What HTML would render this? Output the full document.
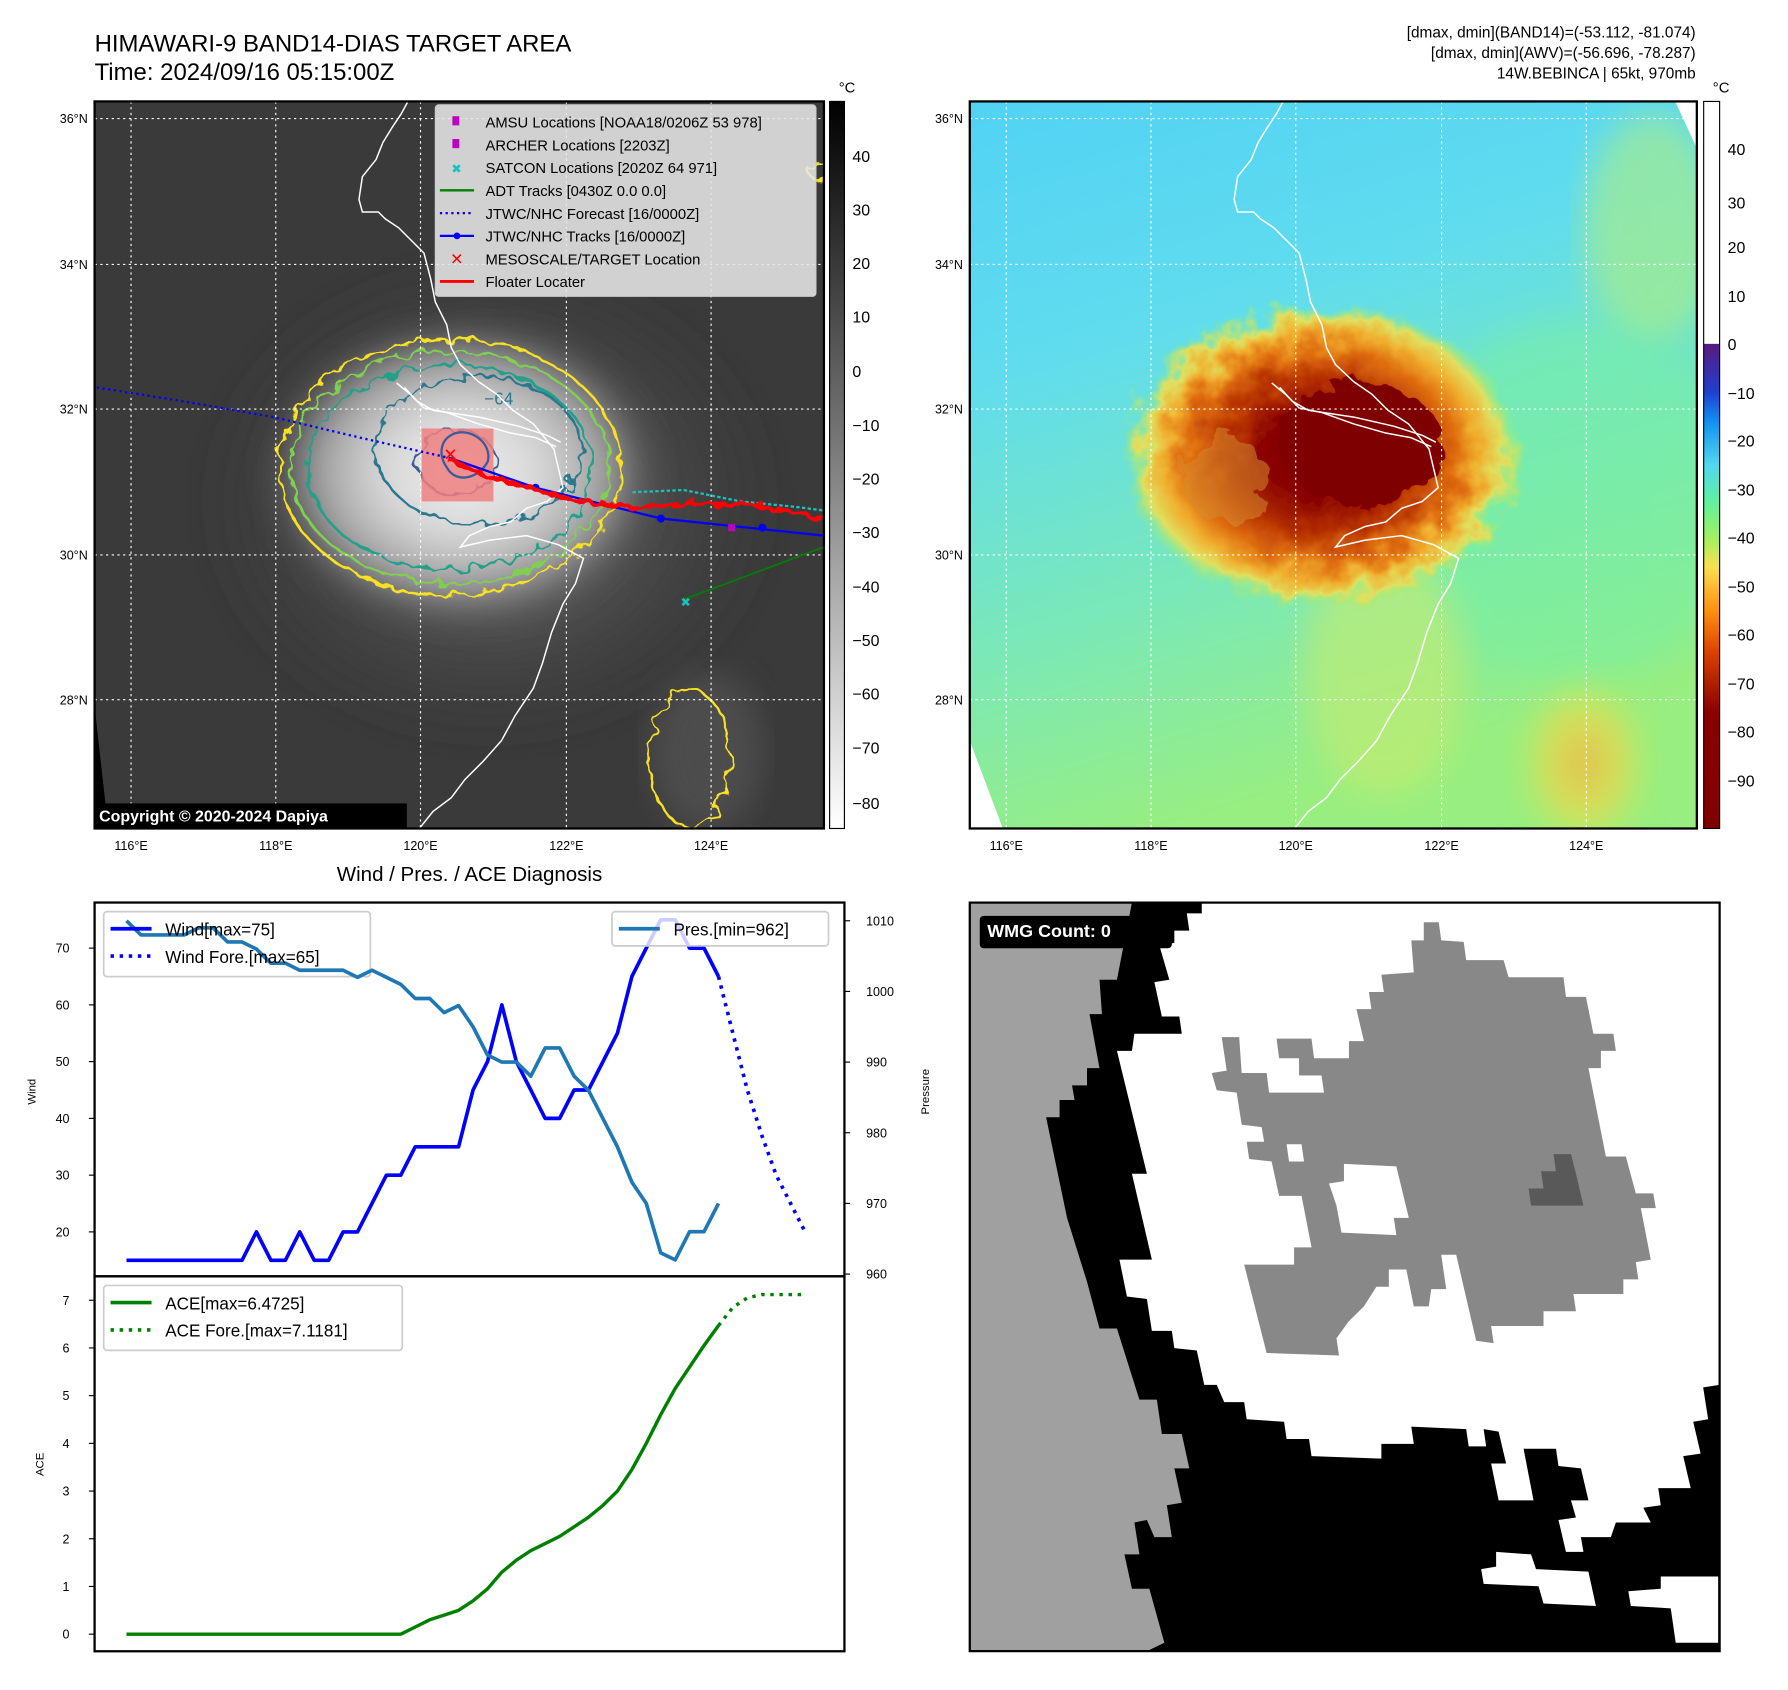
<!DOCTYPE html>
<html><head><meta charset="utf-8"><style>
html,body{margin:0;padding:0;background:#fff;}
svg{display:block;font-family:"Liberation Sans","DejaVu Sans",sans-serif;}
</style></head><body>
<svg id="root" width="1788" height="1690" viewBox="0 0 1569 1483" preserveAspectRatio="none" xmlns="http://www.w3.org/2000/svg">
<defs>
<clipPath id="clipL"><rect x="83" y="89" width="640" height="638"/></clipPath>
<clipPath id="clipR"><rect x="851" y="89" width="638" height="638"/></clipPath>
<radialGradient id="irCore" cx="0.5" cy="0.5" r="0.5">
<stop offset="0" stop-color="#eeeeee"/><stop offset="0.4" stop-color="#d8d8d8"/><stop offset="0.75" stop-color="#9a9a9a"/><stop offset="1" stop-color="#444" stop-opacity="0"/></radialGradient>
<radialGradient id="irOuter" cx="0.5" cy="0.5" r="0.5">
<stop offset="0" stop-color="#8a8a8a"/><stop offset="1" stop-color="#3a3a3a" stop-opacity="0"/></radialGradient>
<linearGradient id="wvBg" x1="0" y1="0" x2="0.3" y2="1">
<stop offset="0" stop-color="#52d2f4"/><stop offset="0.35" stop-color="#60dcee"/><stop offset="0.7" stop-color="#7ae8b8"/><stop offset="1" stop-color="#98ee80"/></linearGradient>
<radialGradient id="wvCore" cx="0.5" cy="0.5" r="0.5">
<stop offset="0" stop-color="#7a0000"/><stop offset="0.3" stop-color="#8c0600"/><stop offset="0.5" stop-color="#b83400"/><stop offset="0.68" stop-color="#e07010"/><stop offset="0.8" stop-color="#f0b030"/><stop offset="0.9" stop-color="#e0e060"/><stop offset="1" stop-color="#90f070" stop-opacity="0"/></radialGradient>
<radialGradient id="wvSE" cx="0.5" cy="0.5" r="0.5">
<stop offset="0" stop-color="#f0b040"/><stop offset="0.6" stop-color="#e8e050"/><stop offset="1" stop-color="#a0f070" stop-opacity="0"/></radialGradient>
<linearGradient id="cbL" x1="0" y1="0" x2="0" y2="1"><stop offset="0" stop-color="#000"/><stop offset="1" stop-color="#fff"/></linearGradient>
<linearGradient id="cbR" x1="0" y1="0" x2="0" y2="1">
<stop offset="0" stop-color="#fff"/><stop offset="0.333" stop-color="#fff"/><stop offset="0.334" stop-color="#5a1a80"/>
<stop offset="0.4" stop-color="#2040d0"/><stop offset="0.44" stop-color="#1090f0"/><stop offset="0.5" stop-color="#50d8f0"/>
<stop offset="0.55" stop-color="#60f0a0"/><stop offset="0.6" stop-color="#a0f060"/><stop offset="0.64" stop-color="#f8e050"/>
<stop offset="0.7" stop-color="#ff9010"/><stop offset="0.76" stop-color="#d84000"/><stop offset="0.84" stop-color="#8a0000"/><stop offset="1" stop-color="#800000"/></linearGradient>
<filter id="jag" x="-10%" y="-10%" width="120%" height="120%"><feTurbulence type="fractalNoise" baseFrequency="0.08" numOctaves="2" seed="3"/><feDisplacementMap in="SourceGraphic" scale="14"/></filter>
<filter id="rough" x="-10%" y="-10%" width="120%" height="120%"><feTurbulence type="fractalNoise" baseFrequency="0.05" numOctaves="3" seed="7"/><feDisplacementMap in="SourceGraphic" scale="30"/></filter>
<filter id="blur"><feGaussianBlur stdDeviation="14"/></filter>
</defs>

<text x="83" y="45" font-size="21">HIMAWARI-9 BAND14-DIAS TARGET AREA</text>
<text x="83" y="70" font-size="21">Time: 2024/09/16 05:15:00Z</text>
<g font-size="13.5" text-anchor="end">
<text x="1488" y="33">[dmax, dmin](BAND14)=(-53.112, -81.074)</text>
<text x="1488" y="51">[dmax, dmin](AWV)=(-56.696, -78.287)</text>
<text x="1488" y="69">14W.BEBINCA | 65kt, 970mb</text>
</g>

<!-- LEFT MAP -->
<g clip-path="url(#clipL)">
<rect x="83" y="89" width="640" height="638" fill="#3a3a3a"/>
<ellipse cx="430" cy="440" rx="260" ry="220" fill="url(#irOuter)" filter="url(#blur)"/>
<ellipse cx="405" cy="415" rx="175" ry="135" fill="url(#irCore)" filter="url(#blur)"/>
<ellipse cx="620" cy="660" rx="50" ry="70" fill="#555" opacity="0.7" filter="url(#blur)"/>
<polygon points="83,620 95,727 83,727" fill="#000"/>
<g fill="none" stroke-width="2.2" filter="url(#jag)">
<ellipse cx="395" cy="410" rx="150" ry="112" stroke="#f8e020"/>
<ellipse cx="395" cy="410" rx="140" ry="102" stroke="#80d050"/>
<ellipse cx="395" cy="410" rx="125" ry="90" stroke="#20a088"/>
<ellipse cx="420" cy="395" rx="90" ry="65" stroke="#2a788e"/>
<ellipse cx="400" cy="405" rx="35" ry="28" stroke="#3a5a9a"/>
<ellipse cx="605" cy="665" rx="35" ry="60" stroke="#f8e020"/>
<ellipse cx="720" cy="150" rx="10" ry="8" stroke="#f8e020"/>
</g>
<text x="425" y="355" font-size="15" fill="#2a788e">−64</text>
<g stroke="#fff" stroke-width="1" stroke-dasharray="2,3">
<line x1="115" y1="89" x2="115" y2="727"/><line x1="242" y1="89" x2="242" y2="727"/><line x1="369" y1="89" x2="369" y2="727"/><line x1="497" y1="89" x2="497" y2="727"/><line x1="624" y1="89" x2="624" y2="727"/>
<line x1="83" y1="104" x2="723" y2="104"/><line x1="83" y1="232" x2="723" y2="232"/><line x1="83" y1="359" x2="723" y2="359"/><line x1="83" y1="487" x2="723" y2="487"/><line x1="83" y1="614" x2="723" y2="614"/>
</g>
<g id="coastL" fill="none" stroke="#fff" stroke-width="1.3">
<polyline points="358,89 352,100 344,112 336,125 330,140 318,155 315,175 318,186 332,186 338,192 350,200 362,212 372,222 378,245 382,265 392,285 396,305 404,320 420,335 436,346 450,360 468,372 486,394 494,428 480,440 462,446 448,458 430,462 412,470 404,480 430,474 462,470 490,478 512,490 505,512 494,530 484,555 476,582 468,604 452,628 440,650 424,668 408,684 396,700 380,712 368,727"/>
<polyline points="348,336 360,346 372,358 392,362 420,372 448,380 470,384 488,392"/>
<polyline points="355,340 366,352 380,360 420,366 455,374 480,382 492,388"/>
</g>
<rect x="370" y="376" width="63" height="64" fill="#f08080" opacity="0.85"/>
<path d="M400,380 C385,385 385,400 392,410 C400,425 420,420 428,405 C432,390 415,376 400,380Z" fill="none" stroke="#3a5a9a" stroke-width="2"/>
<g>
<polyline points="85,340 160,352 240,366 320,385 395,402" fill="none" stroke="#0000ff" stroke-width="2" stroke-dasharray="2,3"/>
<polyline points="395,402 470,428 580,455 723,470" fill="none" stroke="#0000ff" stroke-width="2"/>
<circle cx="470" cy="428" r="3.5" fill="#0000ff"/><circle cx="580" cy="455" r="3.5" fill="#0000ff"/><circle cx="669" cy="463" r="3.5" fill="#0000ff"/>
<polyline points="600,526 723,480 M600,526 723,490 M650,462 723,452" fill="none" stroke="#008000" stroke-width="1.5"/>
<polyline points="555,432 600,430 650,440 700,445 723,448" fill="none" stroke="#1ac0c0" stroke-width="2" stroke-dasharray="3,2"/>
<polyline points="395,405 450,425 500,438 560,445 620,442 680,446 723,456" fill="none" stroke="#ff0000" stroke-width="4" filter="url(#jag)"/>
<rect x="639" y="460" width="6" height="6" fill="#c000c0"/>
<text x="597" y="532" font-size="11" fill="#1ac0c0">✖</text>
<text x="389" y="404" font-size="15" fill="#ff0000" font-weight="bold">✕</text>
</g>
</g>
<rect x="83" y="89" width="640" height="638" fill="none" stroke="#000" stroke-width="2"/>
<g>
<rect x="382" y="92" width="334" height="168" rx="3" fill="#e6e6e6" fill-opacity="0.88" stroke="#ccc"/>
<g font-size="13">
<rect x="397" y="102" width="6" height="8" fill="#c000c0"/><text x="426" y="112">AMSU Locations [NOAA18/0206Z 53 978]</text>
<rect x="397" y="122" width="6" height="8" fill="#c000c0"/><text x="426" y="132">ARCHER Locations [2203Z]</text>
<text x="396" y="152" font-size="11" fill="#1ac0c0">✖</text><text x="426" y="152">SATCON Locations [2020Z 64 971]</text>
<line x1="386" y1="167" x2="416" y2="167" stroke="#008000" stroke-width="2"/><text x="426" y="172">ADT Tracks [0430Z 0.0 0.0]</text>
<line x1="386" y1="187" x2="416" y2="187" stroke="#0000ff" stroke-width="2" stroke-dasharray="2,3"/><text x="426" y="192">JTWC/NHC Forecast [16/0000Z]</text>
<line x1="386" y1="207" x2="416" y2="207" stroke="#0000ff" stroke-width="2"/><circle cx="401" cy="207" r="3" fill="#0000ff"/><text x="426" y="212">JTWC/NHC Tracks [16/0000Z]</text>
<text x="395" y="232" font-size="14" fill="#ff0000" font-weight="bold">✕</text><text x="426" y="232">MESOSCALE/TARGET Location</text>
<line x1="386" y1="247" x2="416" y2="247" stroke="#ff0000" stroke-width="2.5"/><text x="426" y="252">Floater Locater</text>
</g></g>
<rect x="83" y="705" width="274" height="22" fill="#000"/>
<text x="87" y="721" font-size="14" font-weight="bold" fill="#fff">Copyright © 2020-2024 Dapiya</text>
<rect x="728" y="89" width="13" height="638" fill="url(#cbL)" stroke="#000" stroke-width="1"/>
<text x="736" y="81" font-size="13">°C</text>
<g font-size="14">
<text x="748" y="142">40</text><text x="748" y="189">30</text><text x="748" y="236">20</text><text x="748" y="283">10</text><text x="748" y="331">0</text>
<text x="748" y="378">−10</text><text x="748" y="425">−20</text><text x="748" y="472">−30</text><text x="748" y="520">−40</text><text x="748" y="567">−50</text>
<text x="748" y="614">−60</text><text x="748" y="661">−70</text><text x="748" y="710">−80</text></g>
<g font-size="11" text-anchor="end">
<text x="77" y="108">36°N</text><text x="77" y="236">34°N</text><text x="77" y="363">32°N</text><text x="77" y="491">30°N</text><text x="77" y="618">28°N</text></g>
<g font-size="11" text-anchor="middle">
<text x="115" y="746">116°E</text><text x="242" y="746">118°E</text><text x="369" y="746">120°E</text><text x="497" y="746">122°E</text><text x="624" y="746">124°E</text></g>

<!-- RIGHT MAP -->
<g clip-path="url(#clipR)">
<rect x="851" y="89" width="638" height="638" fill="url(#wvBg)"/>
<ellipse cx="1450" cy="200" rx="60" ry="100" fill="#b0ee80" opacity="0.6" filter="url(#blur)"/>
<ellipse cx="1380" cy="440" rx="150" ry="160" fill="#78f0a0" opacity="0.5" filter="url(#blur)"/>
<ellipse cx="1390" cy="670" rx="60" ry="80" fill="url(#wvSE)" opacity="0.8" filter="url(#blur)"/>
<ellipse cx="1215" cy="590" rx="70" ry="110" fill="#c8ec70" opacity="0.6" filter="url(#blur)"/>
<ellipse cx="1160" cy="400" rx="175" ry="135" fill="url(#wvCore)" filter="url(#rough)"/>
<ellipse cx="1195" cy="390" rx="70" ry="55" fill="#7e0000" filter="url(#rough)"/>
<ellipse cx="1075" cy="420" rx="35" ry="40" fill="#d89030" opacity="0.5" filter="url(#rough)"/>
<polygon points="851,727 851,650 880,727" fill="#fff"/>
<polygon points="1470,89 1489,89 1489,130" fill="#fff"/>
<g stroke="#fff" stroke-width="1" stroke-dasharray="2,3">
<line x1="883" y1="89" x2="883" y2="727"/><line x1="1010" y1="89" x2="1010" y2="727"/><line x1="1137" y1="89" x2="1137" y2="727"/><line x1="1265" y1="89" x2="1265" y2="727"/><line x1="1392" y1="89" x2="1392" y2="727"/>
<line x1="851" y1="104" x2="1489" y2="104"/><line x1="851" y1="232" x2="1489" y2="232"/><line x1="851" y1="359" x2="1489" y2="359"/><line x1="851" y1="487" x2="1489" y2="487"/><line x1="851" y1="614" x2="1489" y2="614"/>
</g>
<use href="#coastL" transform="translate(768,0)"/>
</g>
<rect x="851" y="89" width="638" height="638" fill="none" stroke="#000" stroke-width="2"/>
<rect x="1495" y="89" width="14" height="638" fill="url(#cbR)" stroke="#000" stroke-width="1"/>
<text x="1503" y="81" font-size="13">°C</text>
<g font-size="14">
<text x="1516" y="136">40</text><text x="1516" y="183">30</text><text x="1516" y="222">20</text><text x="1516" y="265">10</text><text x="1516" y="307">0</text>
<text x="1516" y="350">−10</text><text x="1516" y="392">−20</text><text x="1516" y="435">−30</text><text x="1516" y="477">−40</text><text x="1516" y="520">−50</text>
<text x="1516" y="562">−60</text><text x="1516" y="605">−70</text><text x="1516" y="647">−80</text><text x="1516" y="690">−90</text></g>
<g font-size="11" text-anchor="end">
<text x="845" y="108">36°N</text><text x="845" y="236">34°N</text><text x="845" y="363">32°N</text><text x="845" y="491">30°N</text><text x="845" y="618">28°N</text></g>
<g font-size="11" text-anchor="middle">
<text x="883" y="746">116°E</text><text x="1010" y="746">118°E</text><text x="1137" y="746">120°E</text><text x="1265" y="746">122°E</text><text x="1392" y="746">124°E</text></g>

<!-- WMG panel -->
<g transform="translate(848.8,788.6) scale(0.4378,0.431)">
<rect x="5" y="8" width="1503" height="1524" fill="#000"/>
<polygon fill="#a0a0a0" points="5,8 330,8 300,165 265,165 270,235 245,235 265,345 240,345 240,380 210,380 215,410 185,410 185,445 158,445 200,650 240,780 265,875 300,875 345,1020 380,1020 390,1090 430,1090 445,1160 415,1160 430,1230 400,1235 410,1300 375,1300 360,1265 335,1270 345,1335 315,1335 330,1405 365,1405 395,1515 360,1532 5,1532"/>
<polygon fill="#fff" points="470,8 1508,8 1508,990 1475,995 1485,1060 1455,1065 1470,1130 1435,1135 1450,1200 1385,1200 1390,1235 1355,1240 1370,1270 1300,1270 1290,1300 1230,1300 1235,1330 1200,1330 1185,1265 1220,1260 1210,1225 1245,1225 1230,1160 1185,1155 1180,1120 1115,1120 1135,1225 1065,1225 1050,1150 1080,1150 1065,1085 1035,1080 1040,1115 1005,1115 1000,1080 890,1075 895,1110 830,1110 830,1140 690,1135 685,1100 640,1100 635,1065 560,1060 555,1025 515,1025 500,990 475,990 460,920 415,915 410,880 370,880 360,815 320,810 305,735 370,735 330,560 360,560 300,310 330,310 335,275 430,275 425,240 390,240 375,170 405,165 385,95 415,90 415,65 445,65 440,30 470,30"/>
<polygon fill="#fff" points="1060,1330 1130,1335 1140,1365 1245,1370 1260,1440 1155,1435 1145,1400 1035,1395 1030,1365 1060,1360"/>
<polygon fill="#fff" points="1390,1380 1505,1380 1505,1515 1420,1515 1410,1445 1330,1440 1325,1410 1390,1405"/>
<polygon fill="#888" points="915,48 945,48 950,85 995,88 1000,125 1075,125 1085,160 1195,160 1200,200 1240,200 1255,275 1295,275 1300,310 1270,310 1270,345 1245,345 1280,525 1320,525 1340,600 1375,600 1380,630 1350,630 1370,735 1340,740 1345,775 1315,775 1315,805 1215,805 1220,840 1155,840 1155,870 1050,870 1055,905 1020,900 980,725 950,725 960,795 930,795 925,830 895,830 880,755 845,755 845,790 820,790 795,830 765,860 740,895 745,930 600,925 555,745 655,745 655,710 690,710 670,605 625,605 610,535 565,530 560,495 595,495 590,465 550,460 540,395 500,390 490,355 520,350 510,282 545,282 550,355 600,355 605,395 715,395 710,360 665,360 665,325 625,325 620,285 690,285 695,325 765,325 765,290 795,290 780,225 810,225 805,190 835,190 830,155 895,150 890,85 915,85"/>
<polygon fill="#fff" points="755,540 860,545 885,650 855,650 860,685 750,680 740,625 725,580 755,575"/>
<polygon fill="#fff" points="640,500 670,500 675,535 645,535"/>
<polygon fill="#595959" points="1175,520 1210,520 1220,560 1235,625 1130,625 1125,590 1155,590 1150,555 1180,555"/>
<rect x="25" y="35" width="385" height="66" rx="8" fill="#000"/>
<text x="40" y="78" font-size="36" font-weight="bold" fill="#fff">WMG Count: 0</text>
<rect x="5" y="8" width="1503" height="1524" fill="none" stroke="#000" stroke-width="4.5"/>
</g>

<text x="412" y="773" font-size="18" text-anchor="middle">Wind / Pres. / ACE Diagnosis</text>
<g id="chart"></g>
</svg>
<script>
const windVals=[15,15,15,15,15,15,15,15,15,20,15,15,20,15,15,20,20,25,30,30,35,35,35,35,45,50,60,50,45,40,40,45,45,50,55,65,70,75,75,70,70,65];
const windFore=[65,55,45,37,30,25,20];
const presVals=[1010,1008,1008,1008,1008,1009,1009,1007,1007,1006,1004,1004,1003,1003,1003,1003,1002,1003,1002,1001,999,999,997,998,995,991,990,990,988,992,992,988,986,982,978,973,970,963,962,966,966,970];
const aceVals=[0,0,0,0,0,0,0,0,0,0,0,0,0,0,0,0,0,0,0,0,0.15,0.3,0.4,0.5,0.7,0.95,1.3,1.55,1.75,1.9,2.05,2.25,2.45,2.7,3.0,3.45,4.0,4.6,5.15,5.6,6.05,6.47];
const aceFore=[6.47,6.85,7.05,7.12,7.12,7.12,7.12];
const windTicks=[20,30,40,50,60,70];
const presTicks=[960,970,980,990,1000,1010];
const aceTicks=[0,1,2,3,4,5,6,7];

const NS='http://www.w3.org/2000/svg';
const chart=document.getElementById('chart');
const X=i=>111+i*12.67;
const YW=v=>832-(v-70)*4.98;
const YP=p=>1118-(p-960)*6.2;
const YA=a=>1434-a*41.86;
function mk(tag,attrs,parent){const e=document.createElementNS(NS,tag);for(const k in attrs)e.setAttribute(k,attrs[k]);(parent||chart).appendChild(e);return e;}
function pts(arr,off,fy){return arr.map((v,i)=>X(i+off).toFixed(1)+','+fy(v).toFixed(1)).join(' ');}

let f1=mk('rect',{x:83,y:792,width:658,height:328,fill:'none',stroke:'#000','stroke-width':2});


let f2=mk('rect',{x:83,y:1120,width:658,height:329,fill:'none',stroke:'#000','stroke-width':2});



windTicks.forEach(v=>{mk('line',{x1:78,x2:83,y1:YW(v),y2:YW(v),stroke:'#000'});
 const t=mk('text',{x:61,y:YW(v)+4,'font-size':11,'text-anchor':'end'});t.textContent=v;
 
 });
presTicks.forEach(v=>{mk('line',{x1:741,x2:746,y1:YP(v),y2:YP(v),stroke:'#000'});
 const t=mk('text',{x:760,y:YP(v)+4,'font-size':11});t.textContent=v;
 
 });
aceTicks.forEach(v=>{mk('line',{x1:78,x2:83,y1:YA(v),y2:YA(v),stroke:'#000'});
 const t=mk('text',{x:61,y:YA(v)+4,'font-size':11,'text-anchor':'end'});t.textContent=v;
 
 });
let yl=mk('text',{x:0,y:0,'font-size':10,'text-anchor':'middle',transform:'translate(31,958) rotate(-90)'});yl.textContent='Wind';


let pl=mk('text',{x:0,y:0,'font-size':10,'text-anchor':'middle',transform:'translate(815,958) rotate(-90)'});pl.textContent='Pressure';


let al=mk('text',{x:0,y:0,'font-size':10,'text-anchor':'middle',transform:'translate(38,1285) rotate(-90)'});al.textContent='ACE';



let wl=mk('polyline',{points:pts(windVals,0,YW),fill:'none',stroke:'#0000ff','stroke-width':3.2,'stroke-linejoin':'round'});


let wf=mk('polyline',{points:pts(windFore,windVals.length-1,YW),fill:'none',stroke:'#0000ff','stroke-width':3.2,'stroke-dasharray':'3,5'});


let al2=mk('polyline',{points:pts(aceVals,0,YA),fill:'none',stroke:'#008000','stroke-width':3,'stroke-linejoin':'round'});


let af=mk('polyline',{points:pts(aceFore,aceVals.length-1,YA),fill:'none',stroke:'#008000','stroke-width':3,'stroke-dasharray':'3,5'});



function legend(x,y,w,h,name){const r=mk('rect',{x:x,y:y,width:w,height:h,rx:3,fill:'#fff','fill-opacity':0.8,stroke:'#ccc','stroke-width':1.5});
 
 }
legend(91,800,234,57,'wind-legend');
legend(537,800,190,30,'pressure-legend');
legend(91,1128,262,57,'ace-legend');

let pr=mk('polyline',{points:pts(presVals,0,YP),fill:'none',stroke:'#1f77b4','stroke-width':3.2,'stroke-linejoin':'round'});



function entry(x,y,color,dash,label,name){mk('line',{x1:x,x2:x+36,y1:y,y2:y,stroke:color,'stroke-width':3.2,'stroke-dasharray':dash||'none'});
 const t=mk('text',{x:x+48,y:y+6,'font-size':15});t.textContent=label;
 
 }
entry(97,815,'#0000ff','', 'Wind[max='+Math.max(...windVals)+']','wind-legend-entry');
entry(97,839,'#0000ff','3,5','Wind Fore.[max='+Math.max(...windFore)+']','wind-forecast-legend-entry');
entry(543,815,'#1f77b4','','Pres.[min='+Math.min(...presVals)+']','pressure-legend-entry');
entry(97,1143,'#008000','','ACE[max=6.4725]','ace-legend-entry');
entry(97,1167,'#008000','3,5','ACE Fore.[max=7.1181]','ace-forecast-legend-entry');
</script>
</body></html>
